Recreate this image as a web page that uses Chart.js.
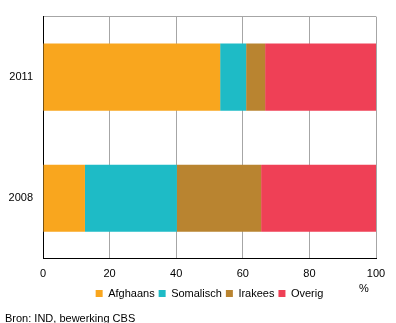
<!DOCTYPE html>
<html>
<head>
<meta charset="utf-8">
<script src="https://cdn.jsdelivr.net/npm/chart.js@4.4.0/dist/chart.umd.min.js"></script>
<style>
    body { margin: 0; background: #fff; }
    #wrap { position: relative; width: 396px; height: 323px; }
    #source {
        position: absolute; left: 5px; top: 312px;
        font: 11px Arial, "Liberation Sans", sans-serif; color: #000;
        line-height: 13px; white-space: nowrap;
    }
</style>
</head>
<body>
<div id="wrap">
    <canvas id="chart" width="396" height="323"></canvas>
    <div id="source">Bron: IND, bewerking CBS</div>
</div>
<script>
// data
var years = ['2011', '2008'];
var afghaans = [53.2, 12.6];
var somalisch = [7.8, 27.6];
var irakees = [5.7, 25.3];
var overig = [33.3, 34.5];
var xTicks = [0, 20, 40, 60, 80, 100];

var font = { family: 'Arial, "Liberation Sans", sans-serif', size: 11 };
Chart.defaults.font = font;
Chart.defaults.color = '#000';

// "%" label under the last tick
var percentLabel = {
    id: 'percentLabel',
    afterDraw: function (chart) {
        var x = chart.scales.x;
        var ctx = chart.ctx;
        ctx.save();
        ctx.font = '11px Arial, "Liberation Sans", sans-serif';
        ctx.fillStyle = '#000';
        ctx.textAlign = 'center';
        ctx.textBaseline = 'middle';
        ctx.fillText('%', x.getPixelForValue(100) - 12, x.bottom + 4.5);
        ctx.restore();
    }
};

var ctxChart = document.getElementById('chart').getContext('2d');
var chart = new Chart(ctxChart, {
    type: 'bar',
    data: {
        labels: years,
        datasets: [
            { label: 'Afghaans', data: afghaans, backgroundColor: '#F9A61E' },
            { label: 'Somalisch', data: somalisch, backgroundColor: '#1EBBC6' },
            { label: 'Irakees', data: irakees, backgroundColor: '#B98430' },
            { label: 'Overig', data: overig, backgroundColor: '#EF4056' }
        ]
    },
    options: {
        indexAxis: 'y',
        responsive: false,
        animation: false,
        layout: { padding: { top: 13, right: 20, bottom: 14, left: 0 } },
        datasets: { bar: { barPercentage: 0.555, categoryPercentage: 1 } },
        scales: {
            x: {
                stacked: true,
                min: 0,
                max: 100,
                afterBuildTicks: function (scale) {
                    scale.ticks = xTicks.map(function (v) { return { value: v }; });
                },
                ticks: { padding: 3, maxRotation: 0 },
                grid: {
                    color: function (c) { return c.index === 0 ? '#000' : '#A6A6A6'; },
                    tickColor: 'rgba(0,0,0,0)',
                    tickLength: 6
                },
                border: { color: '#000' }
            },
            y: {
                stacked: true,
                afterFit: function (scale) { scale.width = 43; },
                ticks: { padding: 10 },
                grid: {
                    drawTicks: false,
                    color: function (c) { return c.index === 0 ? '#A6A6A6' : 'rgba(0,0,0,0)'; }
                },
                border: { color: '#000' }
            }
        },
        plugins: {
            tooltip: { enabled: false },
            legend: {
                position: 'bottom',
                fullSize: false,
                labels: { boxWidth: 7, boxHeight: 7, padding: 4 }
            }
        }
    },
    plugins: [percentLabel]
});
</script>
</body>
</html>
